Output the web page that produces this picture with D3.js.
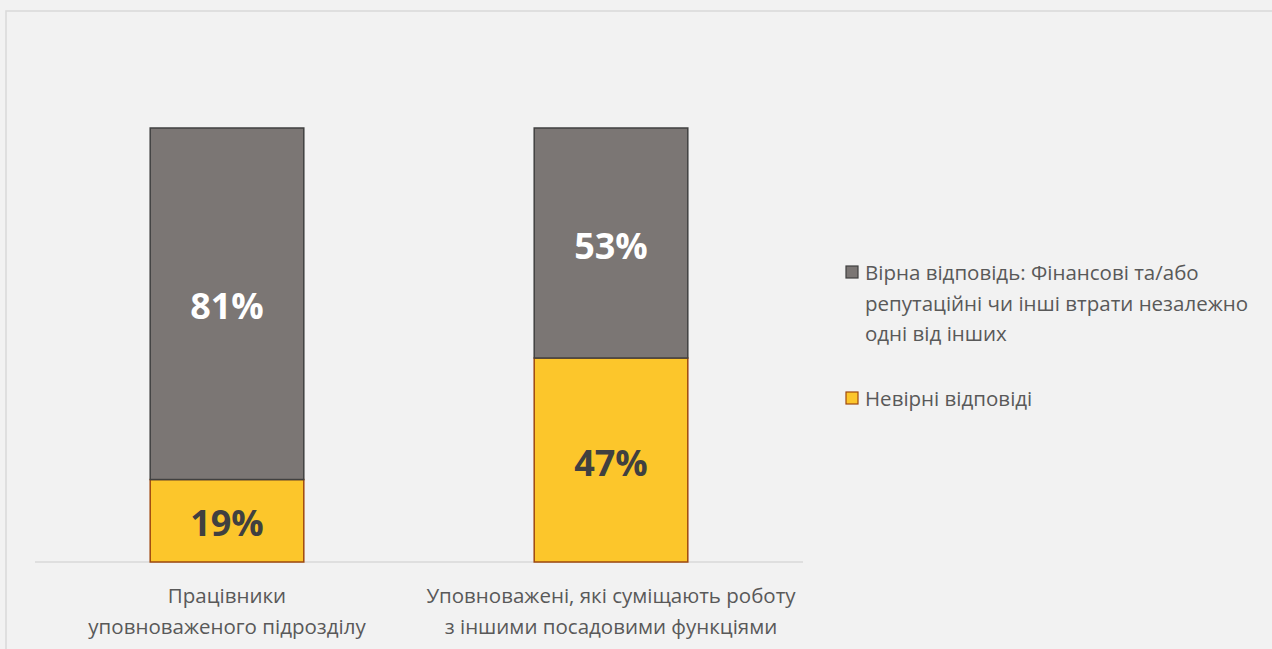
<!DOCTYPE html>
<head>
	<meta charset="UTF-8">
	<script src="https://d3js.org/d3.v7.min.js"></script>
	<title>Stacked bars</title>
<style>
	body{
		margin: 0;
		background-color: rgb(242,242,242);
		overflow: hidden;
	}
</style>
</head>

<body>
	<svg width=1272 height=649></svg>
</body>

<script>
	// Chart data
	var categories = [["Працівники", "уповноваженого підрозділу"],
	                  ["Уповноважені, які суміщають роботу", "з іншими посадовими функціями"]];
	var correct = [0.81, 0.53];
	var wrong = [0.19, 0.47];
	var seriesNames = [["Вірна відповідь: Фінансові та/або", "репутаційні чи інші втрати незалежно", "одні від інших"],
	                   ["Невірні відповіді"]];

	var svg = d3.select("svg");
	var font = "'Open Sans', sans-serif";

	// Chart area border
	svg.append("rect")
		.attr("x", 6).attr("y", 11)
		.attr("width", 1300).attr("height", 700)
		.style("fill", "rgb(242,242,242)")
		.style("stroke", "rgb(217,217,217)")
		.style("stroke-width", 1.5);

	var x = d3.scaleBand()
				.domain(d3.range(categories.length))
				.range([35, 803])
				.paddingInner(0.6)
				.paddingOuter(0.3);

	var y = d3.scaleLinear()
				.domain([0, 1])
				.range([562, 128]);

	// Axis line
	svg.append("line")
		.attr("x1", 35).attr("x2", 803)
		.attr("y1", y(0)).attr("y2", y(0))
		.style("stroke", "rgb(217,217,217)")
		.style("stroke-width", 1.5);

	var rows = categories.map((c, i) => ({i: i, wrong: wrong[i], correct: correct[i]}));

	// Yellow segment (bottom)
	svg.append("g").selectAll("rect")
		.data(rows).enter()
		.append("rect")
		.attr("x", d => x(d.i))
		.attr("width", x.bandwidth())
		.attr("y", d => y(d.wrong))
		.attr("height", d => y(0) - y(d.wrong))
		.style("fill", "rgb(252,198,43)")
		.style("stroke", "rgb(158,72,14)")
		.style("stroke-width", 1.5);

	// Grey segment (top)
	svg.append("g").selectAll("rect")
		.data(rows).enter()
		.append("rect")
		.attr("x", d => x(d.i))
		.attr("width", x.bandwidth())
		.attr("y", d => y(d.wrong + d.correct))
		.attr("height", d => y(d.wrong) - y(d.wrong + d.correct))
		.style("fill", "rgb(123,118,116)")
		.style("stroke", "rgb(64,64,64)")
		.style("stroke-width", 1.5);

	// Value labels
	var labels = svg.append("g")
		.attr("font-family", font)
		.attr("font-weight", "bold")
		.attr("font-size", "36px")
		.attr("text-anchor", "middle")
		.attr("dominant-baseline", "central");

	labels.selectAll(".lw")
		.data(rows).enter()
		.append("text")
		.attr("x", d => x(d.i) + x.bandwidth()/2)
		.attr("y", d => y(d.wrong/2) + 2)
		.style("fill", "rgb(64,64,64)")
		.text(d => Math.round(d.wrong*100) + "%");

	labels.selectAll(".lc")
		.data(rows).enter()
		.append("text")
		.attr("x", d => x(d.i) + x.bandwidth()/2)
		.attr("y", d => y(d.wrong + d.correct/2) + 2)
		.style("fill", "white")
		.text(d => Math.round(d.correct*100) + "%");

	// Category labels
	var cat = svg.append("g")
		.attr("font-family", font)
		.attr("font-size", "20.5px")
		.attr("text-anchor", "middle")
		.style("fill", "rgb(89,89,89)");

	categories.forEach(function(lines, i){
		lines.forEach(function(line, j){
			cat.append("text")
				.attr("x", x(i) + x.bandwidth()/2)
				.attr("y", 595 + j*31)
				.attr("dominant-baseline", "central")
				.text(line);
		});
	});

	// Legend
	var legendColors = [["rgb(123,118,116)", "rgb(64,64,64)"], ["rgb(252,198,43)", "rgb(158,72,14)"]];
	var legendTop = [272, 398];
	var legend = svg.append("g")
		.attr("font-family", font)
		.attr("font-size", "20.5px")
		.style("fill", "rgb(89,89,89)");

	seriesNames.forEach(function(lines, i){
		legend.append("rect")
			.attr("x", 846).attr("y", legendTop[i] - 6)
			.attr("width", 12).attr("height", 12)
			.style("fill", legendColors[i][0])
			.style("stroke", legendColors[i][1])
			.style("stroke-width", 1.2);
		lines.forEach(function(line, j){
			legend.append("text")
				.attr("x", 865)
				.attr("y", legendTop[i] + j*30.5)
				.attr("dominant-baseline", "central")
				.text(line);
		});
	});
</script>
